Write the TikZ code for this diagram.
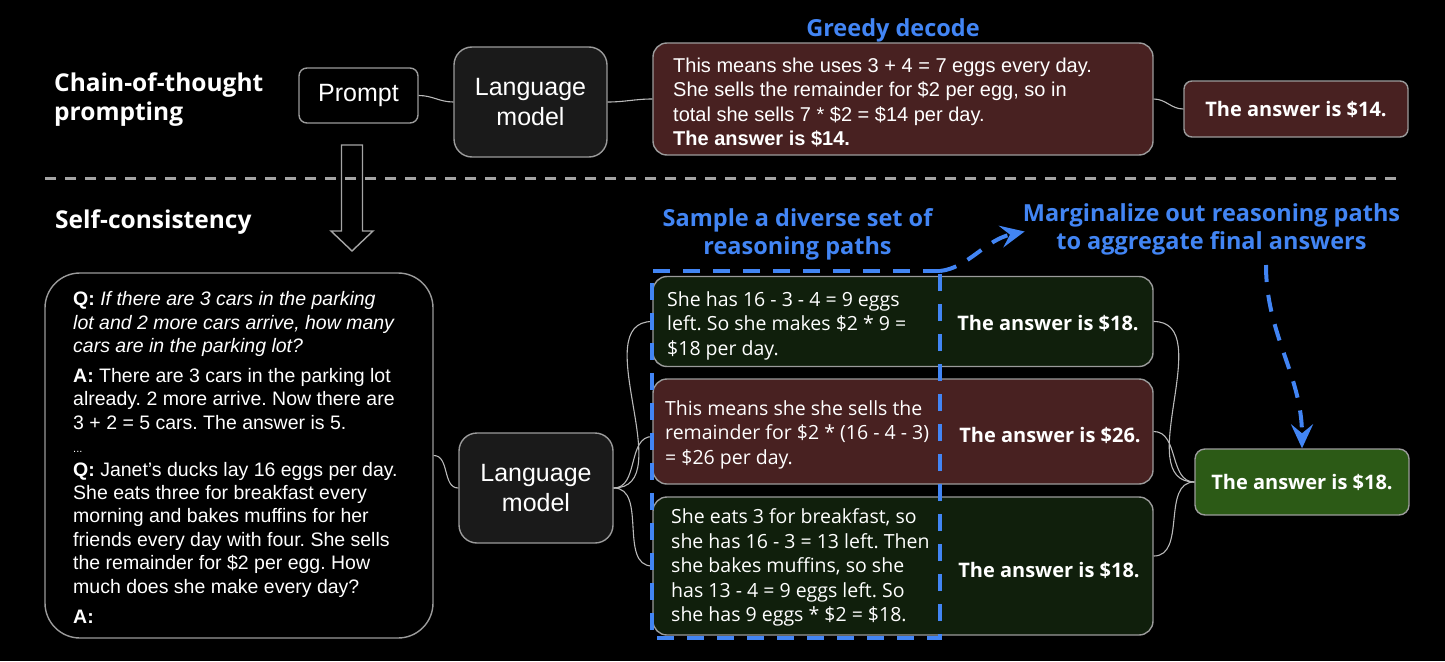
\documentclass[tikz,border=0pt]{standalone}
\usepackage{fontspec}
\setmainfont{Liberation Sans}
\newfontfamily\rob{Liberation Sans}
\newfontfamily\gs{Open Sans}
\usetikzlibrary{arrows.meta}
\frenchspacing
\definecolor{bordergray}{RGB}{155,155,155}
\definecolor{conngray}{RGB}{185,185,185}
\definecolor{lmfill}{RGB}{26,26,26}
\definecolor{redfill}{RGB}{72,33,33}
\definecolor{darkgreen}{RGB}{16,31,12}
\definecolor{finalgreen}{RGB}{44,90,22}
\definecolor{gblue}{RGB}{66,133,244}
\definecolor{divgray}{RGB}{165,165,165}
\begin{document}
\begin{tikzpicture}[x=1pt,y=-1pt,
  every node/.style={inner sep=0pt, text=white},
  bx/.style={draw=bordergray, line width=1.4pt},
  conn/.style={draw=conngray, line width=1.1pt},
  heading/.style={font=\gs\bfseries\fontsize{24.5}{29}\selectfont, align=left},
  bluelabel/.style={text=gblue, font=\gs\bfseries\fontsize{23.5}{28}\selectfont, align=center},
  lmtext/.style={font=\rob\fontsize{25}{29.5}\selectfont, align=center},
  robtext/.style={font=\rob\fontsize{19.5}{23.4}\selectfont, align=left},
  gstext/.style={font=\gs\fontsize{19.5}{24.5}\selectfont, align=left},
  anstext/.style={font=\gs\bfseries\fontsize{20}{24}\selectfont},
  bluedash/.style={draw=gblue, line width=4pt, dash pattern=on 17pt off 13pt},
  bluetip/.style={-{Stealth[length=24pt,width=22pt,inset=9pt]}}
]
\useasboundingbox (0,0) rectangle (1445,661);
\fill[black] (0,0) rectangle (1445,661);

% ---------- top row ----------
\node[heading, anchor=west] (cot) at (54,100) {Chain-of-thought\\prompting};
\node[bx, fill=black, rounded corners=8pt, minimum width=119pt, minimum height=55pt,
      lmtext] (prompt) at (358.5,95.5) {Prompt};
\node[bx, fill=lmfill, rounded corners=18pt, minimum width=153pt, minimum height=110pt,
      lmtext] (lm1) at (530.5,102) {Language\\model};
\node[bluelabel] (greedylab) at (893,30) {Greedy decode};
\node[bx, fill=redfill, rounded corners=14pt, minimum width=500pt, minimum height=112pt]
  (greedy) at (903,99) {};
\node[robtext, font=\rob\fontsize{20}{24.2}\selectfont, anchor=west] (greedytext) at (673,102.5)
  {This means she uses 3 + 4 = 7 eggs every day.\\
   She sells the remainder for \$2 per egg, so in\\
   total she sells 7 * \$2 = \$14 per day.\\
   \textbf{The answer is \$14.}};
\node[bx, fill=redfill, rounded corners=8pt, minimum width=224pt, minimum height=56pt,
      anstext] (ans14) at (1296,109) {The answer is \$14.};

\draw[conn] (prompt.east) to[out=0,in=180] (lm1.west);
\draw[conn] (lm1.east) to[out=0,in=180] (greedy.west);
\draw[conn] (greedy.east) to[out=0,in=180] (ans14.west);

% ---------- divider ----------
\coordinate (divL) at (45,178);
\coordinate (divR) at (1405,178);
\draw[divgray, line width=3pt, dash pattern=on 11pt off 9pt] (divL) -- (divR);

% hollow arrow
\draw[divgray, line width=1.4pt, line join=miter]
  (341.5,145) -- (362.5,145) -- (362.5,231) -- (373,231) -- (352,251)
  -- (331,231) -- (341.5,231) -- cycle;

% ---------- bottom ----------
\node[heading, anchor=west] (sc) at (55,222) {Self-consistency};

\node[bx, fill=black, rounded corners=35pt, minimum width=388pt, minimum height=365pt]
  (qbox) at (239,455.5) {};
\node[robtext, anchor=west] (qtext) at (73,457.5)
  {\textbf{Q:} \textit{If there are 3 cars in the parking}\\
   \textit{lot and 2 more cars arrive, how many}\\
   \textit{cars are in the parking lot?}\\[6.5pt]
   \textbf{A:} There are 3 cars in the parking lot\\
   already. 2 more arrive. Now there are\\
   3 + 2 = 5 cars. The answer is 5.\\
   {\fontsize{11}{12}\selectfont ...}\\
   \textbf{Q:} Janet’s ducks lay 16 eggs per day.\\
   She eats three for breakfast every\\
   morning and bakes muffins for her\\
   friends every day with four. She sells\\
   the remainder for \$2 per egg. How\\
   much does she make every day?\\[7pt]
   \textbf{A:}};

\node[bx, fill=lmfill, rounded corners=18pt, minimum width=154pt, minimum height=110pt,
      lmtext] (lm2) at (536,488) {Language\\model};

\node[bx, fill=darkgreen, rounded corners=14pt, minimum width=500pt, minimum height=90pt]
  (box1) at (903,321.5) {};
\node[bx, fill=redfill, rounded corners=14pt, minimum width=500pt, minimum height=105pt]
  (box2) at (903,431.5) {};
\node[bx, fill=darkgreen, rounded corners=14pt, minimum width=500pt, minimum height=138pt]
  (box3) at (903,566) {};

\node[gstext, anchor=west] (t1) at (667,325.5)
  {She has 16 - 3 - 4 = 9 eggs\\ left. So she makes \$2 * 9 =\\ \$18 per day.};
\node[gstext, anchor=west] (t2) at (665,434.5)
  {This means she she sells the\\ remainder for \$2 * (16 - 4 - 3)\\ = \$26 per day.};
\node[gstext, anchor=west] (t3) at (671,567.5)
  {She eats 3 for breakfast, so\\ she has 16 - 3 = 13 left. Then\\ she bakes muffins, so she\\
   has 13 - 4 = 9 eggs left. So\\ she has 9 eggs * \$2 = \$18.};

\node[anstext] (a1) at (1048,323) {The answer is \$18.};
\node[anstext] (a2) at (1050,435) {The answer is \$26.};
\node[anstext] (a3) at (1049,570) {The answer is \$18.};

\node[bx, fill=finalgreen, rounded corners=10pt, minimum width=214pt, minimum height=66pt,
      anstext] (final) at (1302,482) {The answer is \$18.};

\draw[conn] (qbox.east) to[out=0,in=180] (lm2.west);
\draw[conn] (lm2.east) to[out=0,in=180] (box1.west);
\draw[conn] (lm2.east) to[out=0,in=180] ([yshift=-5pt]box2.west);
\draw[conn] (lm2.east) to[out=0,in=180] (box3.west);
\draw[conn] (box1.east) to[out=0,in=180] (final.west);
\draw[conn] (box2.east) to[out=0,in=180] (final.west);
\draw[conn] ([yshift=10pt]box3.east) to[out=0,in=180] (final.west);

% labels
\node[bluelabel] (sample) at (797.5,234) {Sample a diverse set of\\reasoning paths};
\node[bluelabel] (margin) at (1211.5,229.5) {Marginalize out reasoning paths\\to aggregate final answers};

% blue dashed selection
\coordinate (dtl) at (652,271);
\coordinate (dtr) at (940,271);
\coordinate (dbr) at (940,638);
\coordinate (dbl) at (652,638);
\draw[bluedash] (dtr) -- (dtl) -- (dbl) -- (dbr) -- cycle;
\draw[bluedash, bluetip] (dtr) .. controls (968,268) and (985,240) .. ([xshift=2pt,yshift=-2pt]margin.west);

\coordinate (mstart) at (1266,265);
\draw[bluedash, bluetip] (mstart) .. controls (1266,335) and (1302,375) .. (final.north);
\end{tikzpicture}
\end{document}
